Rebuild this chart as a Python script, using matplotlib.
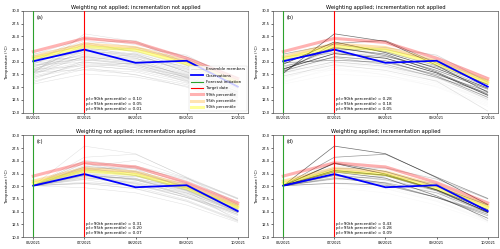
import numpy as np
import matplotlib.pyplot as plt

months = ["06/2021", "07/2021", "08/2021", "09/2021", "10/2021"]

observations = [20.1, 22.4, 19.8, 20.2, 15.1]
pct_99 = [22.0, 24.6, 23.8, 20.7, 16.7]
pct_95 = [21.0, 23.5, 22.8, 20.1, 16.2]
pct_90 = [20.6, 23.0, 22.3, 19.6, 15.8]

# raw ensemble members (one row per member, one column per month)
members = [
    [17.7, 25.5, 24.0, 19.3, 14.0],
    [18.0, 23.6, 24.2, 19.7, 15.5],
    [19.5, 23.9, 21.8, 18.7, 14.8],
    [20.0, 22.7, 21.5, 18.0, 13.6],
    [18.6, 21.6, 20.7, 17.8, 13.4],
    [21.5, 23.5, 22.0, 19.2, 15.6],
    [18.2, 21.0, 20.2, 17.2, 13.0],
    [19.2, 20.8, 19.5, 16.9, 13.9],
    [17.2, 19.4, 18.3, 16.2, 10.3],
    [20.4, 21.8, 21.0, 19.0, 15.1],
    [18.9, 22.3, 22.4, 20.2, 16.3],
    [19.8, 20.3, 19.9, 17.5, 14.2],
    [17.9, 20.0, 19.1, 17.0, 12.6],
    [20.9, 22.2, 22.8, 21.3, 16.0],
    [18.4, 22.9, 21.2, 18.3, 14.6],
    [15.6, 17.6, 17.0, 15.2, 11.5],
    [16.2, 18.5, 18.0, 15.8, 12.3],
    [16.8, 19.8, 19.6, 16.4, 12.0],
    [17.0, 18.9, 17.4, 15.5, 11.8],
    [17.4, 21.2, 20.4, 17.6, 13.5],
    [17.8, 19.6, 18.9, 16.6, 13.1],
    [18.1, 20.6, 19.3, 16.0, 12.8],
    [18.3, 22.0, 21.6, 18.9, 14.9],
    [18.5, 19.2, 18.5, 16.8, 12.9],
    [18.7, 20.9, 20.0, 17.3, 13.7],
    [19.0, 22.6, 21.0, 18.1, 14.0],
    [19.3, 21.4, 20.6, 18.5, 14.4],
    [19.6, 23.0, 22.1, 19.4, 15.3],
    [19.9, 21.1, 19.7, 17.1, 13.2],
    [20.2, 24.2, 22.9, 20.0, 15.8],
    [20.5, 22.1, 21.3, 18.6, 14.8],
    [20.8, 20.4, 19.4, 17.0, 13.6],
    [21.1, 23.1, 22.5, 20.6, 16.4],
    [21.4, 24.6, 23.4, 20.9, 16.8],
    [16.5, 20.2, 21.5, 18.0, 14.1],
    [17.5, 22.4, 20.8, 16.8, 13.0],
    [18.0, 18.4, 17.5, 15.0, 11.2],
    [19.4, 19.9, 18.8, 16.3, 12.4],
    [15.9, 19.0, 19.8, 17.4, 13.3],
    [20.0, 25.0, 23.7, 21.0, 16.9],
]

# member weights used in the weighted panels
weights = [0.70, 0.50, 0.80, 0.60, 0.90, 0.40, 0.50, 0.30, 0.15, 0.35,
           0.25, 0.45, 0.20, 0.20, 0.55] + [0.03] * 25

titles = [
    "Weighting not applied; incrementation not applied",
    "Weighting applied; incrementation not applied",
    "Weighting not applied; incrementation applied",
    "Weighting applied; incrementation applied",
]
panel_labels = ["(a)", "(b)", "(c)", "(d)"]
prob_90 = [0.10, 0.28, 0.31, 0.43]
prob_95 = [0.05, 0.18, 0.20, 0.28]
prob_99 = [0.01, 0.05, 0.07, 0.09]

members = np.array(members)
incremented = members - members[:, :1] + observations[0]
x = np.arange(len(months))

fig, axes = plt.subplots(2, 2, figsize=(5, 2.49), dpi=100)
fig.subplots_adjust(left=0.046, right=0.996, top=0.956, bottom=0.048,
                    wspace=0.111, hspace=0.225)

for i, ax in enumerate(axes.flat):
    weighted = i in (1, 3)
    data = incremented if i >= 2 else members

    for k, row in enumerate(data):
        if weighted:
            ax.plot(x, row, color="black", lw=0.5,
                    alpha=min(1.0, weights[k] * 0.8))
        else:
            ax.plot(x, row, color="gray", lw=0.35, alpha=0.25)

    ax.plot(x, observations, color="blue", lw=1.3, zorder=5)
    ax.axvline(0, color="tab:green", lw=0.8, zorder=6)
    ax.axvline(1, color="red", lw=0.8, zorder=6)
    ax.plot(x, pct_99, color="red", lw=2.2, alpha=0.3, zorder=4)
    ax.plot(x, pct_95, color="orange", lw=2.2, alpha=0.3, zorder=4)
    ax.plot(x, pct_90, color="yellow", lw=2.2, alpha=0.4, zorder=4)

    ax.set_ylim(10, 30)
    ax.set_yticks(np.arange(10, 30.1, 2.5))
    ax.set_xticks(x)
    ax.set_xticklabels(months)
    ax.tick_params(labelsize=2.6, length=1.5, width=0.4, pad=1)
    for s in ax.spines.values():
        s.set_linewidth(0.5)
        s.set_color("#555555")
    ax.set_ylabel("Temperature (°C)", fontsize=2.8, labelpad=1.5)
    ax.set_title(titles[i], fontsize=3.7, pad=1.5)
    ax.text(0.06, 0.96, panel_labels[i], transform=ax.transAxes,
            fontsize=3.6, va="top", ha="left")
    ax.text(1.04, 10.4,
            f"p(>90th percentile) = {prob_90[i]:.2f}\n"
            f"p(>95th percentile) = {prob_95[i]:.2f}\n"
            f"p(>99th percentile) = {prob_99[i]:.2f}",
            fontsize=2.95, va="bottom", ha="left", linespacing=1.2)

ax = axes[0, 0]
handles = [
    plt.Line2D([], [], color="gray", lw=0.6, alpha=0.25),
    plt.Line2D([], [], color="blue", lw=1.3),
    plt.Line2D([], [], color="tab:green", lw=0.8),
    plt.Line2D([], [], color="red", lw=0.8),
    plt.Line2D([], [], color="red", lw=2.2, alpha=0.3),
    plt.Line2D([], [], color="orange", lw=2.2, alpha=0.3),
    plt.Line2D([], [], color="yellow", lw=2.2, alpha=0.4),
]
labels = ["Ensemble members", "Observations", "Forecast initiation",
          "Target date", "99th percentile", "95th percentile",
          "90th percentile"]
leg = ax.legend(handles, labels, loc="lower right", fontsize=2.8,
                frameon=True, handlelength=3, borderpad=0.5,
                labelspacing=0.6, borderaxespad=0.3)
leg.get_frame().set_linewidth(0.3)
leg.set_zorder(10)

fig.savefig("out.png", dpi=100)
